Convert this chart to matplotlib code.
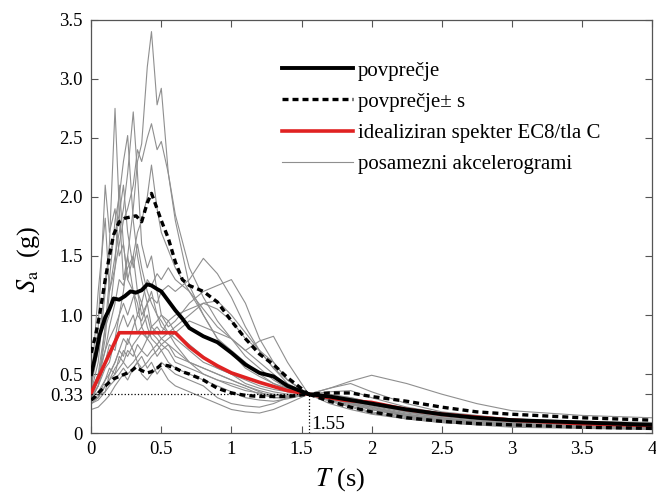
import numpy as np
import matplotlib
matplotlib.use("Agg")
from matplotlib import pyplot as plt

plt.rcParams['font.family'] = ['Liberation Serif', 'DejaVu Serif']
plt.rcParams['mathtext.fontset'] = 'stix'

# periods shared by the individual records (s)
T_rec = [0, 0.05, 0.1, 0.13, 0.17, 0.2, 0.23, 0.26, 0.3, 0.33, 0.36, 0.4, 0.43, 0.47, 0.5,
         0.55, 0.6, 0.7, 0.8, 0.9, 1.0, 1.1, 1.2, 1.3, 1.4, 1.55, 1.7, 1.85, 2.0, 2.25,
         2.5, 2.75, 3.0, 3.5, 4.0]

# individual accelerograms, Sa (g)
rec_01 = [0.3, 0.4, 0.55, 0.6, 0.8, 1.0, 1.2, 1.5, 1.9, 2.3, 2.45, 3.1, 3.4, 2.78, 2.92,
          2.2, 1.8, 1.25, 1.0, 0.8, 0.68, 0.55, 0.48, 0.42, 0.38, 0.33, 0.3, 0.26, 0.22, 0.16,
          0.12, 0.1, 0.08, 0.06, 0.05]
rec_02 = [0.35, 0.6, 1.2, 1.6, 2.75, 1.9, 1.3, 1.5, 1.2, 1.1, 0.9, 1.0, 0.85, 0.8, 0.75,
          0.7, 0.6, 0.55, 0.5, 0.45, 0.42, 0.38, 0.33, 0.3, 0.3, 0.33, 0.28, 0.24, 0.2, 0.14,
          0.1, 0.08, 0.065, 0.05, 0.04]
rec_03 = [0.3, 0.45, 0.8, 1.2, 1.5, 1.7, 1.9, 2.2, 2.72, 2.2, 1.6, 1.4, 1.5, 1.2, 1.0,
          0.95, 0.85, 0.75, 0.65, 0.55, 0.5, 0.45, 0.4, 0.37, 0.35, 0.33, 0.32, 0.28, 0.24, 0.18,
          0.13, 0.1, 0.08, 0.06, 0.05]
rec_04 = [0.28, 0.4, 0.9, 1.3, 1.8, 2.0, 2.3, 2.52, 1.8, 1.5, 1.3, 1.1, 1.2, 1.0, 0.9,
          0.85, 0.8, 0.7, 0.6, 0.55, 0.5, 0.42, 0.38, 0.35, 0.33, 0.33, 0.3, 0.26, 0.22, 0.15,
          0.11, 0.09, 0.07, 0.05, 0.04]
rec_05 = [0.32, 0.5, 0.9, 1.0, 1.4, 1.6, 1.8, 1.9, 2.1, 2.4, 2.3, 2.5, 2.62, 2.4, 2.47,
          2.2, 1.85, 1.4, 1.15, 0.95, 0.8, 0.65, 0.55, 0.45, 0.38, 0.33, 0.32, 0.3, 0.26, 0.2,
          0.15, 0.12, 0.1, 0.08, 0.06]
rec_06 = [0.3, 0.45, 0.7, 0.9, 1.1, 1.3, 1.25, 1.4, 1.5, 1.7, 1.8, 2.0, 2.27, 1.9, 1.7,
          1.55, 1.4, 1.2, 1.0, 0.8, 0.7, 0.6, 0.5, 0.42, 0.37, 0.33, 0.3, 0.27, 0.23, 0.17,
          0.13, 0.1, 0.08, 0.06, 0.05]
rec_07 = [0.35, 0.9, 2.1, 1.7, 1.9, 1.5, 1.6, 1.3, 1.2, 1.0, 1.1, 0.9, 0.8, 0.75, 0.7,
          0.6, 0.55, 0.5, 0.45, 0.4, 0.35, 0.3, 0.28, 0.27, 0.29, 0.33, 0.3, 0.25, 0.2, 0.14,
          0.1, 0.08, 0.06, 0.05, 0.04]
rec_08 = [0.4, 1.2, 1.82, 1.2, 1.4, 2.1, 1.6, 1.3, 1.5, 1.2, 1.0, 1.1, 0.9, 0.85, 0.8,
          0.75, 0.65, 0.6, 0.55, 0.5, 0.45, 0.4, 0.36, 0.33, 0.32, 0.33, 0.29, 0.25, 0.21, 0.15,
          0.11, 0.09, 0.07, 0.055, 0.045]
rec_09 = [0.3, 0.35, 0.45, 0.5, 0.6, 0.7, 0.8, 0.75, 0.9, 1.0, 0.95, 1.1, 1.15, 1.1, 1.2,
          1.25, 1.2, 1.3, 1.48, 1.35, 1.15, 0.9, 0.7, 0.55, 0.42, 0.33, 0.35, 0.36, 0.3, 0.22,
          0.17, 0.14, 0.11, 0.09, 0.08]
rec_10 = [0.28, 0.3, 0.4, 0.45, 0.55, 0.6, 0.7, 0.65, 0.75, 0.8, 0.85, 0.8, 0.9, 0.95, 1.0,
          0.9, 0.95, 1.1, 1.2, 1.25, 1.3, 1.1, 0.8, 0.6, 0.45, 0.33, 0.38, 0.42, 0.35, 0.25,
          0.18, 0.15, 0.12, 0.1, 0.09]
rec_11 = [0.25, 0.3, 0.4, 0.45, 0.5, 0.55, 0.6, 0.55, 0.6, 0.65, 0.7, 0.65, 0.7, 0.75, 0.8,
          0.85, 0.9, 1.0, 1.1, 1.05, 0.95, 0.8, 0.7, 0.6, 0.45, 0.33, 0.38, 0.44, 0.49, 0.42,
          0.33, 0.25, 0.19, 0.15, 0.13]
rec_12 = [0.28, 0.32, 0.35, 0.4, 0.45, 0.5, 0.55, 0.5, 0.55, 0.6, 0.55, 0.6, 0.65, 0.7, 0.75,
          0.8, 0.85, 0.95, 0.9, 0.85, 0.8, 0.7, 0.78, 0.82, 0.6, 0.33, 0.3, 0.26, 0.22, 0.16,
          0.12, 0.1, 0.08, 0.06, 0.05]
rec_13 = [0.25, 0.28, 0.35, 0.5, 0.6, 0.7, 0.65, 0.8, 0.7, 0.6, 0.65, 0.55, 0.6, 0.5, 0.55,
          0.45, 0.4, 0.35, 0.3, 0.25, 0.2, 0.18, 0.17, 0.2, 0.25, 0.33, 0.25, 0.2, 0.16, 0.12,
          0.09, 0.07, 0.05, 0.04, 0.03]
rec_14 = [0.2, 0.22, 0.28, 0.32, 0.4, 0.45, 0.5, 0.45, 0.55, 0.6, 0.5, 0.45, 0.5, 0.55, 0.6,
          0.55, 0.5, 0.45, 0.4, 0.3, 0.25, 0.23, 0.22, 0.25, 0.3, 0.33, 0.27, 0.22, 0.17, 0.12,
          0.09, 0.07, 0.06, 0.045, 0.035]
rec_15 = [0.35, 0.5, 0.7, 0.8, 0.9, 1.0, 1.1, 1.0, 1.15, 1.2, 1.1, 1.3, 1.25, 1.35, 1.3,
          1.4, 1.3, 1.2, 1.05, 0.9, 0.8, 0.7, 0.6, 0.5, 0.4, 0.33, 0.31, 0.28, 0.24, 0.18,
          0.14, 0.11, 0.09, 0.07, 0.06]
rec_16 = [0.4, 0.7, 1.3, 1.5, 1.7, 1.85, 2.1, 1.7, 1.4, 1.6, 1.4, 1.2, 1.1, 1.0, 0.95,
          0.85, 0.75, 0.6, 0.5, 0.45, 0.4, 0.36, 0.34, 0.32, 0.31, 0.33, 0.29, 0.25, 0.2, 0.15,
          0.11, 0.09, 0.07, 0.055, 0.045]
rec_17 = [0.3, 0.4, 0.6, 0.75, 0.7, 0.9, 1.0, 0.9, 1.0, 0.85, 0.9, 0.8, 0.85, 0.9, 0.85,
          0.95, 1.0, 1.05, 1.1, 1.12, 1.0, 0.85, 0.7, 0.55, 0.45, 0.33, 0.33, 0.3, 0.26, 0.2,
          0.15, 0.12, 0.1, 0.08, 0.07]
rec_18 = [0.27, 0.3, 0.45, 0.55, 0.5, 0.65, 0.6, 0.7, 0.65, 0.75, 0.7, 0.8, 0.75, 0.65, 0.7,
          0.75, 0.7, 0.6, 0.55, 0.5, 0.45, 0.4, 0.35, 0.3, 0.3, 0.33, 0.28, 0.23, 0.18, 0.13,
          0.1, 0.08, 0.065, 0.05, 0.04]
records = [rec_01, rec_02, rec_03, rec_04, rec_05, rec_06, rec_07, rec_08, rec_09,
           rec_10, rec_11, rec_12, rec_13, rec_14, rec_15, rec_16, rec_17, rec_18]

# mean and mean +/- s
T_band = [0, 0.03, 0.06, 0.1, 0.13, 0.16, 0.2, 0.24, 0.28, 0.32, 0.36, 0.4, 0.43, 0.47,
          0.5, 0.55, 0.6, 0.65, 0.7, 0.8, 0.9, 1.0, 1.1, 1.2, 1.3, 1.4, 1.55, 1.7, 1.85,
          2.0, 2.25, 2.5, 2.75, 3.0, 3.5, 4.0]
sa_mean = [0.5, 0.65, 0.83, 0.98, 1.05, 1.14, 1.13, 1.16, 1.2, 1.19, 1.21, 1.26, 1.25, 1.22,
           1.2, 1.12, 1.04, 0.97, 0.89, 0.82, 0.77, 0.68, 0.58, 0.51, 0.48, 0.4, 0.33, 0.31,
           0.28, 0.25, 0.2, 0.16, 0.13, 0.11, 0.09, 0.07]
sa_upper = [0.68, 0.82, 1.0, 1.3, 1.5, 1.68, 1.79, 1.82, 1.83, 1.84, 1.79, 1.95, 2.03, 1.9,
            1.8, 1.65, 1.45, 1.3, 1.25, 1.2, 1.11, 0.95, 0.8, 0.67, 0.58, 0.47, 0.33, 0.34,
            0.34, 0.31, 0.27, 0.22, 0.18, 0.16, 0.13, 0.11]
sa_lower = [0.28, 0.31, 0.35, 0.4, 0.43, 0.46, 0.48, 0.5, 0.52, 0.56, 0.53, 0.51, 0.52, 0.55,
            0.58, 0.57, 0.55, 0.52, 0.5, 0.45, 0.38, 0.34, 0.32, 0.31, 0.31, 0.31, 0.33, 0.27,
            0.22, 0.18, 0.13, 0.1, 0.08, 0.07, 0.05, 0.04]

# idealised EC8 spectrum, ground type C
T_ec8 = [0, 0.2, 0.6, 0.7, 0.8, 0.9, 1.0, 1.2, 1.4, 1.55, 1.8, 2.0, 2.25, 2.5, 3.0, 3.5, 4.0]
sa_ec8 = [0.34, 0.85, 0.85, 0.73, 0.64, 0.57, 0.51, 0.43, 0.36, 0.33, 0.28, 0.26, 0.2,
          0.16, 0.11, 0.08, 0.064]

T_scale = 1.55
sa_scale = 0.33

fig = plt.figure(figsize=(6.56, 4.95), dpi=100)
ax = fig.add_axes([0.139, 0.125, 0.855, 0.835])

for i, rec in enumerate(records):
    ax.plot(T_rec, rec, color='#8f8f8f', lw=0.8, zorder=2,
            label='posamezni akcelerogrami' if i == 0 else None)

ax.plot(T_ec8, sa_ec8, color='#e02222', lw=2.6, zorder=3, label='idealiziran spekter EC8/tla C')
ax.plot(T_band, sa_upper, color='black', lw=2.4, dashes=(1.8, 1.2), zorder=4,
        label='povprečje± s')
ax.plot(T_band, sa_lower, color='black', lw=2.4, dashes=(1.8, 1.2), zorder=4)
ax.plot(T_band, sa_mean, color='black', lw=2.8, zorder=5, label='povprečje')

# scaling point
ax.plot([0, T_scale], [sa_scale, sa_scale], color='black', lw=0.9, ls=':', zorder=6)
ax.plot([T_scale, T_scale], [0, sa_scale], color='black', lw=0.9, ls=':', zorder=6)
ax.text(T_scale + 0.02, 0.005, '1.55', fontsize=14, ha='left', va='bottom')

ax.set_xlim(0, 4)
ax.set_ylim(0, 3.5)
ax.set_xticks([0, 0.5, 1, 1.5, 2, 2.5, 3, 3.5, 4])
ax.set_xticklabels(['0', '0.5', '1', '1.5', '2', '2.5', '3', '3.5', '4'])
ax.set_yticks([0, 0.33, 0.5, 1.0, 1.5, 2.0, 2.5, 3.0, 3.5])
ax.set_yticklabels(['0', '0.33', '0.5', '1.0', '1.5', '2.0', '2.5', '3.0', '3.5'])
ax.tick_params(direction='in', top=True, right=True, length=5, width=0.8,
               labelsize=13.5, pad=6, color='#555555')
for s in ax.spines.values():
    s.set_color('#555555')
    s.set_linewidth(0.9)

ax.set_xlabel('$T$ (s)', fontsize=19)
ax.xaxis.set_label_coords(0.444, -0.08)
ax.set_ylabel('$S_{\\mathrm{a}}$  (g)', fontsize=19)
ax.yaxis.set_label_coords(-0.087, 0.42)

h, l = ax.get_legend_handles_labels()
order = [l.index('povprečje'), l.index('povprečje± s'),
         l.index('idealiziran spekter EC8/tla C'), l.index('posamezni akcelerogrami')]
ax.legend([h[k] for k in order], [l[k] for k in order], loc='upper left',
          bbox_to_anchor=(0.34, 0.90), frameon=False, fontsize=15,
          handlelength=3.4, handletextpad=0.25, labelspacing=0.55,
          borderpad=0, borderaxespad=0)

fig.savefig('out.png', dpi=100)
